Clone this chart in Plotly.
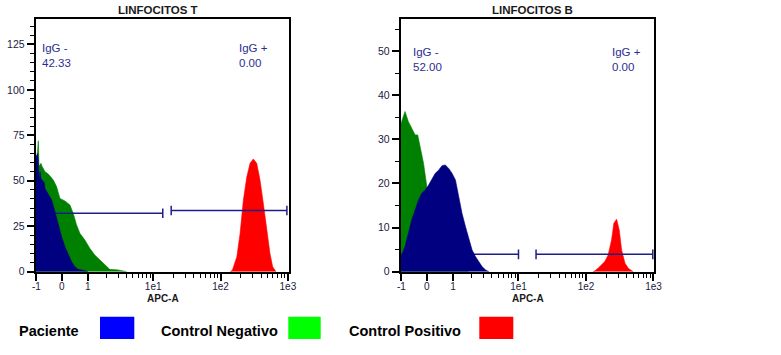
import math
import plotly.graph_objects as go

# ---------------- data (APC-A position on display scale, event counts) -------------
# x tick labels of the biexponential APC-A axis and their display positions
x_tick_labels = ["-1", "0", "1", "1e1", "1e2", "1e3"]
x_tick_pos = [-0.735, -0.357, 0.03, 1.0, 2.0, 3.0]

# LINFOCITOS T
t_neg_x = [-0.745, -0.718, -0.706, -0.696, -0.666, -0.651, -0.607, -0.558, -0.484, -0.434,
           -0.385, -0.311, -0.237, -0.188, -0.138, -0.089, -0.015, 0.058, 0.132, 0.206,
           0.280, 0.354, 0.477, 0.576, 0.605]
t_neg_y = [60, 66, 72, 58, 59.6, 58, 55, 53.7, 50.4, 46.7,
           40.3, 38.9, 36.7, 32.1, 25.7, 21.1, 17.4, 12.9, 9.2, 6.4,
           3.7, 1.3, 1.0, 0.5, 0]
t_pac_x = [-0.745, -0.713, -0.703, -0.691, -0.681, -0.666, -0.651, -0.617, -0.607, -0.558,
           -0.508, -0.459, -0.410, -0.360, -0.311, -0.262, -0.212, -0.163, -0.115, -0.041, 0.033]
t_pac_y = [63, 65, 57, 50, 55, 51, 50.4, 49, 45.8, 42.2,
           39.4, 33, 25.7, 19.2, 13.7, 9.2, 5.5, 2.7, 1.3, 0.8, 0]
t_pos_x = [2.143, 2.177, 2.242, 2.290, 2.339, 2.389, 2.438, 2.487, 2.537, 2.586,
           2.635, 2.685, 2.734, 2.774, 2.808, 2.823]
t_pos_y = [0, 1, 8.2, 21, 39.4, 52, 59.6, 62, 59.6, 50.4,
           37.6, 24.7, 10, 2.7, 0.5, 0]
t_gate_neg = [-0.745, 1.142, 32.1]   # start, end, level
t_gate_pos = [1.267, 2.985, 33.7]
t_pct = ["42.33", "0.00"]

# LINFOCITOS B
b_neg_x = [-0.745, -0.740, -0.710, -0.681, -0.631, -0.582, -0.531, -0.493, -0.457, -0.407,
           -0.358, -0.284, -0.184, -0.084, 0.015, 0.115, 0.215, 0.264]
b_neg_y = [26.8, 33.6, 35, 36.3, 34, 32.5, 31, 31, 28.3, 24.6,
           19.3, 14, 9, 5, 2.5, 1, 0.3, 0]
b_pac_x = [-0.745, -0.731, -0.681, -0.631, -0.582, -0.531, -0.482, -0.433, -0.382, -0.333,
           -0.284, -0.233, -0.184, -0.134, -0.084, -0.034, 0.015, 0.066, 0.115, 0.164,
           0.215, 0.264, 0.313, 0.364, 0.413, 0.463, 0.513, 0.563]
b_pac_y = [3.4, 3.8, 5.7, 8.7, 11.7, 14, 16.2, 17.8, 18.5, 19.6,
           20.8, 22.3, 23, 24, 24.2, 23.4, 22.3, 20.8, 17, 13.2,
           10.2, 7.2, 4.9, 3.4, 2.3, 1.1, 0.4, 0]
b_pos_x = [2.104, 2.130, 2.179, 2.230, 2.279, 2.328, 2.379, 2.413, 2.454, 2.493,
           2.528, 2.578, 2.627, 2.678, 2.701]
b_pos_y = [0, 0.2, 0.8, 1.5, 2.3, 3.8, 7.2, 11, 11.9, 9.4,
           4.9, 1.9, 0.8, 0.2, 0]
b_gate_neg = [-0.745, 1.0, 3.94]
b_gate_pos = [1.26, 2.99, 3.94]
b_pct = ["52.00", "0.00"]

titles = ["LINFOCITOS T", "LINFOCITOS B"]
legend_names = ["Paciente", "Control Negativo", "Control Positivo"]
legend_colors = ["#0000ff", "#00ff00", "#ff0000"]

# ---------------- styling ----------------
W, H = 781, 355
C_PAC, C_NEG, C_POS = "#000080", "#008000", "#ff0000"
GATE_C = "#1e1e86"
TXT_C = "#2d2d90"
TICK_C = "#1a1a40"
FONT = "Liberation Sans, Arial, sans-serif"

fig = go.Figure()


def area(x, y, color, xa, ya):
    fig.add_trace(go.Scatter(x=x, y=y, mode="lines", fill="tozeroy",
                             line=dict(color=color, width=0.6), fillcolor=color,
                             xaxis=xa, yaxis=ya, hoverinfo="skip", showlegend=False))


def gate(g, bar_half, xa, ya, left_bar):
    s, e, lv = g
    xs = [s, e, None, e, e]
    ys = [lv, lv, None, lv - bar_half, lv + bar_half]
    if left_bar:
        xs += [None, s, s]
        ys += [None, lv - bar_half, lv + bar_half]
    fig.add_trace(go.Scatter(x=xs, y=ys, mode="lines", line=dict(color=GATE_C, width=1.5),
                             xaxis=xa, yaxis=ya, hoverinfo="skip", showlegend=False))


# panel 1
area(t_neg_x, t_neg_y, C_NEG, "x", "y")
area(t_pos_x, t_pos_y, C_POS, "x", "y")
gate(t_gate_neg, 2.6, "x", "y", False)
gate(t_gate_pos, 2.6, "x", "y", True)
area(t_pac_x, t_pac_y, C_PAC, "x", "y")
# panel 2
area(b_neg_x, b_neg_y, C_NEG, "x2", "y2")
area(b_pos_x, b_pos_y, C_POS, "x2", "y2")
gate(b_gate_neg, 1.1, "x2", "y2", False)
gate(b_gate_pos, 1.1, "x2", "y2", True)
area(b_pac_x, b_pac_y, C_PAC, "x2", "y2")

minor_x = [n + math.log10(k) for n in range(3) for k in range(2, 10)]

xcommon = dict(range=[-0.745, 3.012], tickmode="array", tickvals=x_tick_pos, ticktext=x_tick_labels,
               ticks="outside", ticklen=7, tickwidth=1.5, tickcolor="black",
               ticklabelstandoff=-3,
               showline=True, linecolor="black", linewidth=2, mirror=True,
               showgrid=False, zeroline=False,
               tickfont=dict(family=FONT, size=10, color=TICK_C),
               minor=dict(tickvals=minor_x, ticks="outside", ticklen=4, tickwidth=1, tickcolor="black"))
ycommon = dict(ticks="outside", ticklen=7, tickwidth=1.5, tickcolor="black",
               showline=True, linecolor="black", linewidth=2, mirror=True,
               showgrid=False, zeroline=False,
               tickfont=dict(family=FONT, size=10.5, color=TICK_C))

y_dom = [1 - 271.7 / H, 1 - 19.3 / H]
fig.update_layout(
    width=W, height=H, margin=dict(l=0, r=0, t=0, b=0, autoexpand=False),
    paper_bgcolor="white", plot_bgcolor="white", showlegend=False,
    xaxis=dict(domain=[35.7 / W, 288.7 / W], anchor="y", **xcommon),
    yaxis=dict(domain=y_dom, anchor="x", range=[0, 138.8], tickvals=[0, 25, 50, 75, 100, 125],
               minor=dict(dtick=5, ticks="outside", ticklen=4, tickwidth=1, tickcolor="black"),
               **ycommon),
    xaxis2=dict(domain=[400.7 / W, 654.3 / W], anchor="y2", **xcommon),
    yaxis2=dict(domain=y_dom, anchor="x2", range=[0, 57.2], tickvals=[0, 10, 20, 30, 40, 50],
                minor=dict(dtick=5, ticks="outside", ticklen=4, tickwidth=1, tickcolor="black"),
                **ycommon),
)

ann = []
# titles and axis titles
for cx, t in zip([158 / W, 532.5 / W], titles):
    ann.append(dict(x=cx, y=1 - 10.3 / H, xref="paper", yref="paper", text=t, showarrow=False,
                    xanchor="center", yanchor="middle",
                    font=dict(family=FONT, size=11.5, color="#1a1a1a", weight="bold")))
for cx in [163.3 / W, 528.3 / W]:
    ann.append(dict(x=cx, y=1 - 298 / H, xref="paper", yref="paper", text="APC-A", showarrow=False,
                    xanchor="center", yanchor="middle",
                    font=dict(family=FONT, size=10, color="#1a1a1a", weight="bold")))
# gate labels
for xa, ya, xn, xp, yv, pct in [("x", "y", -0.68, 2.238, 118.9, t_pct),
                                ("x2", "y2", -0.595, 2.352, 48.2, b_pct)]:
    ann.append(dict(x=xn, y=yv, xref=xa, yref=ya, text="IgG -<br>" + pct[0], showarrow=False,
                    xanchor="left", yanchor="middle", align="left",
                    font=dict(family=FONT, size=11.5, color=TXT_C)))
    ann.append(dict(x=xp, y=yv, xref=xa, yref=ya, text="IgG +<br>" + pct[1], showarrow=False,
                    xanchor="left", yanchor="middle", align="left",
                    font=dict(family=FONT, size=11.5, color=TXT_C)))
# custom legend
legend_text_cx = [48.9, 219.2, 404.7]
legend_box_x = [(100, 134.3), (288.3, 320.7), (479.3, 513.3)]
shapes = []
for name, col, tcx, (bx0, bx1) in zip(legend_names, legend_colors, legend_text_cx, legend_box_x):
    ann.append(dict(x=tcx / W, y=1 - 330.5 / H, xref="paper", yref="paper", text=name, showarrow=False,
                    xanchor="center", yanchor="middle",
                    font=dict(family=FONT, size=14.5, color="black", weight="bold")))
    shapes.append(dict(type="rect", xref="paper", yref="paper", x0=bx0 / W, x1=bx1 / W,
                       y0=1 - 339 / H, y1=1 - 316.7 / H, fillcolor=col, line=dict(width=0)))
fig.update_layout(annotations=ann, shapes=shapes)

fig.write_html("out.html", config={"displayModeBar": False},
               post_script="document.body.style.margin='0';document.body.style.padding='0';"
                           "document.documentElement.style.overflow='hidden';")
